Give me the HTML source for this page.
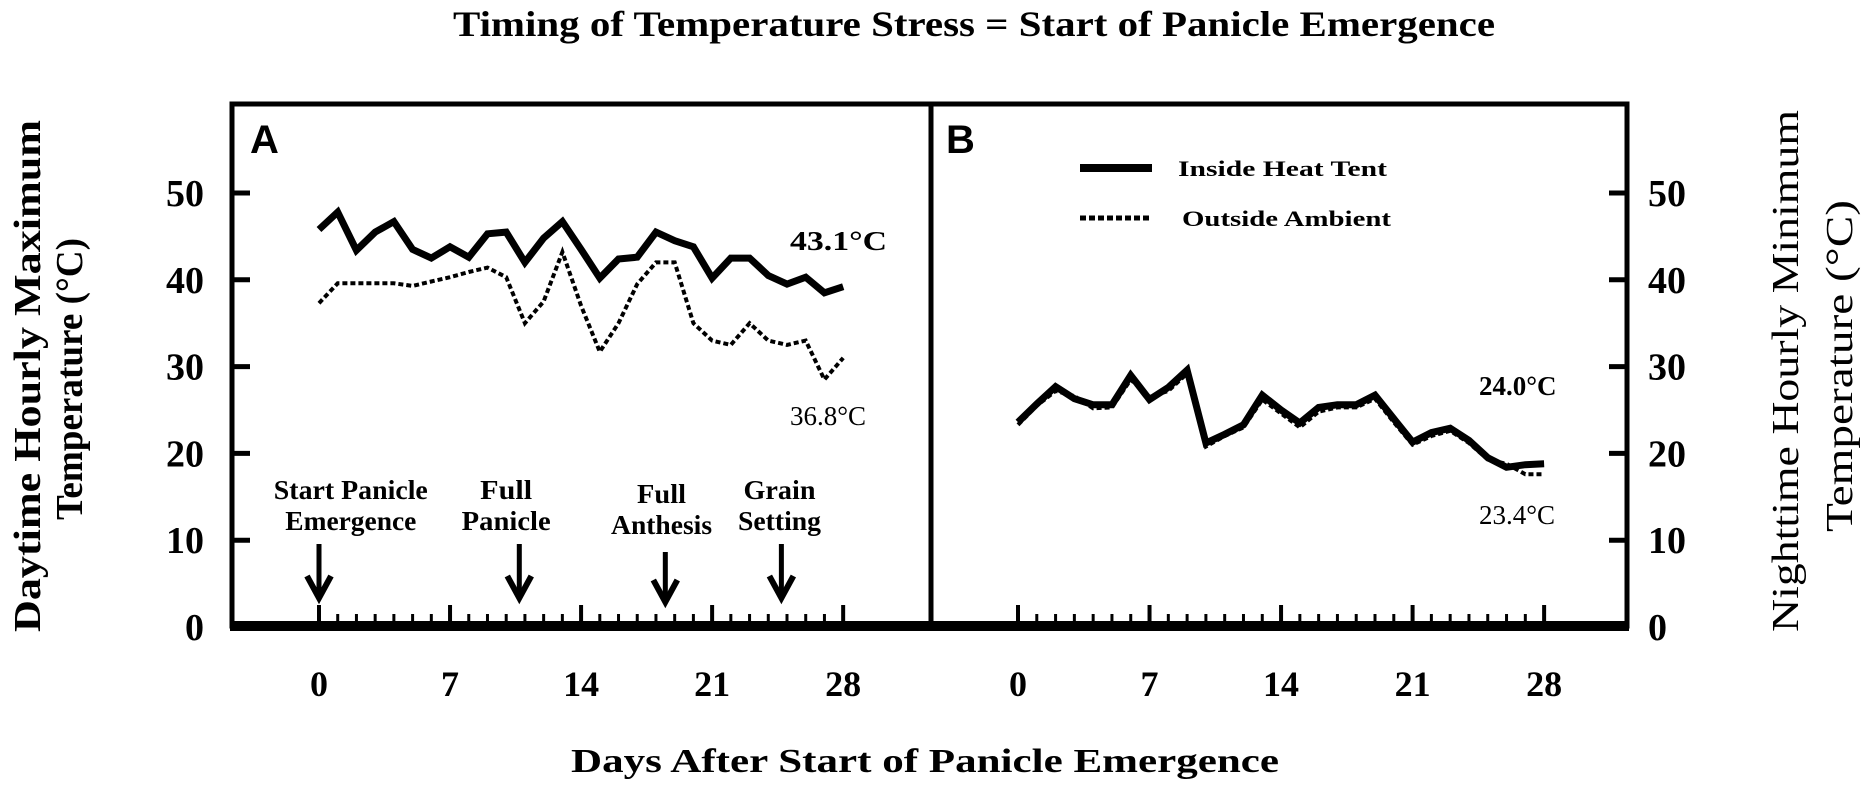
<!DOCTYPE html>
<html><head><meta charset="utf-8"><style>
html,body{margin:0;padding:0;background:#fff;}
svg{display:block;}
text{font-family:"Liberation Serif",serif;fill:#000;}
</style></head><body>
<svg id="chart" width="1866" height="789" viewBox="0 0 1866 789" xmlns="http://www.w3.org/2000/svg">
<text x="453" y="36" font-size="36" font-weight="bold" textLength="1042" lengthAdjust="spacingAndGlyphs">Timing of Temperature Stress = Start of Panicle Emergence</text>
<text x="571" y="772" font-size="34" font-weight="bold" textLength="708" lengthAdjust="spacingAndGlyphs">Days After Start of Panicle Emergence</text>
<text transform="translate(40,632) rotate(-90)" font-size="38" font-weight="bold" textLength="512" lengthAdjust="spacingAndGlyphs">Daytime Hourly Maximum</text>
<text transform="translate(82,520) rotate(-90)" font-size="38" font-weight="bold" textLength="282" lengthAdjust="spacingAndGlyphs">Temperature (°C)</text>
<text transform="translate(1798,632) rotate(-90)" font-size="38" textLength="522" lengthAdjust="spacingAndGlyphs">Nighttime Hourly Minimum</text>
<text transform="translate(1852,532) rotate(-90)" font-size="38" textLength="332" lengthAdjust="spacingAndGlyphs">Temperature (°C)</text>
<g id="plot"></g>
<text x="250" y="153" font-size="40" font-weight="bold" style="font-family:'Liberation Sans',sans-serif">A</text>
<text x="946" y="153" font-size="40" font-weight="bold" style="font-family:'Liberation Sans',sans-serif">B</text>
<g>
<line x1="1080" y1="168" x2="1152" y2="168" stroke="#000" stroke-width="8"/>
<text x="1178" y="176" font-size="22" font-weight="bold" textLength="209" lengthAdjust="spacingAndGlyphs">Inside Heat Tent</text>
<line x1="1080" y1="218" x2="1152" y2="218" stroke="#000" stroke-width="5" stroke-dasharray="6,3"/>
<text x="1182" y="226" font-size="22" font-weight="bold" textLength="209" lengthAdjust="spacingAndGlyphs">Outside Ambient</text>
</g>
<text x="790" y="250" font-size="27" font-weight="bold" textLength="97" lengthAdjust="spacingAndGlyphs">43.1°C</text>
<text x="790" y="425" font-size="27">36.8°C</text>
<text x="1479" y="395" font-size="27" font-weight="bold">24.0°C</text>
<text x="1479" y="524" font-size="27">23.4°C</text>
</svg>
<script>
const days = [0,1,2,3,4,5,6,7,8,9,10,11,12,13,14,15,16,17,18,19,20,21,22,23,24,25,26,27,28];
const insideA = [45.8,47.8,43.4,45.5,46.7,43.5,42.5,43.8,42.6,45.3,45.5,42,44.8,46.7,43.5,40.2,42.4,42.6,45.5,44.5,43.8,40.2,42.5,42.5,40.5,39.5,40.3,38.5,39.2];
const outsideA = [37.3,39.6,39.6,39.6,39.6,39.3,39.8,40.3,40.9,41.4,40.3,35,37.5,43.2,37,31.7,35,39.5,42,42,35,33,32.5,35,33,32.5,33,28.5,31];
const insideB = [23.6,25.7,27.7,26.3,25.6,25.6,29,26.2,27.6,29.6,21.2,22.2,23.3,26.7,25,23.5,25.3,25.6,25.6,26.7,24,21.3,22.4,22.9,21.5,19.5,18.4,18.7,18.8];
const outsideB = [23.3,25.5,27.2,26.6,25.2,25.3,28.5,26.5,27.2,29.2,20.8,22,23,26.2,24.6,23,24.8,25.3,25.3,26.3,23.6,21,22,22.6,21.2,19.3,18.8,17.6,17.6];
const yTicks = [0,10,20,30,40,50];
const xTickLabels = [0,7,14,21,28];
const stageNames = [["Start Panicle","Emergence"],["Full","Panicle"],["Full","Anthesis"],["Grain","Setting"]];
const stageDays = [0,10.7,18.5,24.7];
const stageLabelDays = [1.7,10,18.3,24.6];

const NS="http://www.w3.org/2000/svg";
const g=document.getElementById('plot');
function el(tag,attrs,parent){const e=document.createElementNS(NS,tag);for(const k in attrs)e.setAttribute(k,attrs[k]);(parent||g).appendChild(e);return e;}
function yScale(v){return 627-8.68*v;}
function xA(d){return 319+18.72*d;}
function xB(d){return 1018+18.79*d;}

let f=el('rect',{x:232,y:104,width:1395,height:522,fill:'none',stroke:'#000','stroke-width':5});


let dv=el('line',{x1:931,y1:104,x2:931,y2:627,stroke:'#000','stroke-width':5});


let xl=el('line',{x1:230,y1:626,x2:1629,y2:626,stroke:'#000','stroke-width':10});



yTicks.forEach(v=>{
  const y=yScale(v);
  if(v>0){
    let t1=el('line',{x1:232,y1:y,x2:250,y2:y,stroke:'#000','stroke-width':5});
    
    
    let t2=el('line',{x1:1609,y1:y,x2:1627,y2:y,stroke:'#000','stroke-width':5});
    
    
  }
  let l1=el('text',{x:204,y:y+13,'font-size':38,'font-weight':'bold','text-anchor':'end'});
  l1.textContent=v;
  
  
  let l2=el('text',{x:1648,y:y+13,'font-size':38,'font-weight':'bold'});
  l2.textContent=v;
  
  
});

[xA,xB].forEach((sx,pi)=>{
  days.forEach(d=>{
    const major=d%7===0;
    let t=el('line',{x1:sx(d),y1:626,x2:sx(d),y2:major?605:614,stroke:'#000','stroke-width':major?4:3});
    
    
  });
  xTickLabels.forEach(d=>{
    let t=el('text',{x:sx(d),y:696,'font-size':36,'font-weight':'bold','text-anchor':'middle'});
    t.textContent=d;
    
    
  });
});

function series(sx,vals,name,dotted){
  const pts=vals.map((v,i)=>sx(days[i]).toFixed(1)+','+yScale(v).toFixed(1)).join(' ');
  const p=el('polyline',{points:pts,fill:'none',stroke:'#000','stroke-width':dotted?4:7,'stroke-linejoin':'miter','stroke-dasharray':dotted?'5,3':'none'});
  
  
}
series(xA,outsideA,'panel-a-outside-line',true);
series(xA,insideA,'panel-a-inside-line',false);
series(xB,outsideB,'panel-b-outside-line',true);
series(xB,insideB,'panel-b-inside-line',false);

const lineWidths=[[154,131],[52,89],[49,101],[72,83]];
stageDays.forEach((d,i)=>{
  const x=xA(d);
  const off=i===2?4:0;
  let a=el('line',{x1:x,y1:544+off*2,x2:x,y2:598+off,stroke:'#000','stroke-width':5});
  
  
  let h=el('polyline',{points:(x-12)+','+(576+off)+' '+x+','+(598+off)+' '+(x+12)+','+(576+off),fill:'none',stroke:'#000','stroke-width':6});
  
  
  const lx=xA(stageLabelDays[i]);
  stageNames[i].forEach((s,j)=>{
    let t=el('text',{x:lx,y:499+j*31+off,'font-size':27,'font-weight':'bold','text-anchor':'middle',textLength:lineWidths[i][j],lengthAdjust:'spacingAndGlyphs'});
    t.textContent=s;
    
    
  });
});
</script>
</body></html>
